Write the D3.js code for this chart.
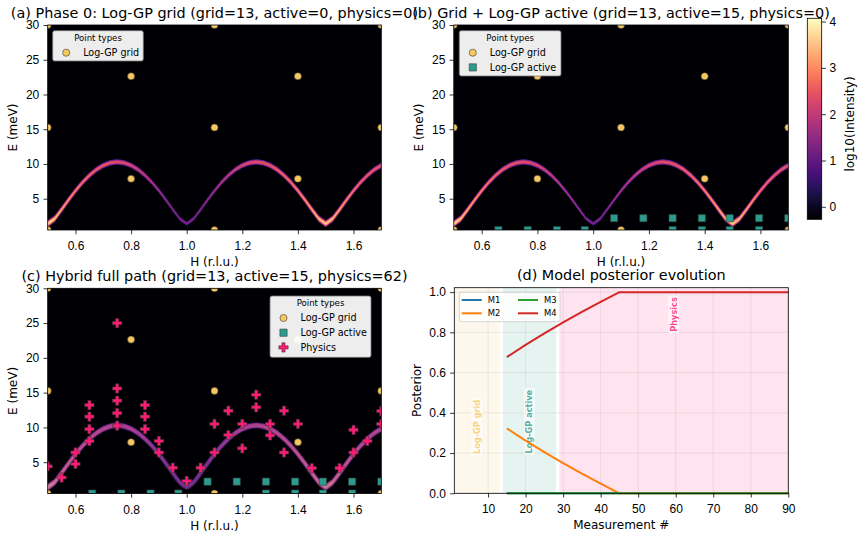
<!DOCTYPE html>
<html>
<head>
<meta charset="utf-8">
<script src="https://cdn.jsdelivr.net/npm/d3@7"></script>
<style>
body { margin: 0; background: #fff; }
svg { font-family: "DejaVu Sans", sans-serif; }
</style>
</head>
<body>
<svg width="862" height="537"></svg>
<script>
// ---- data ----
const hDomain = [0.5, 1.7]
const eDomain = [0.5, 30]
const hTicks = [0.6, 0.8, 1.0, 1.2, 1.4, 1.6]
const eTicks = [5, 10, 15, 20, 25, 30]

// Log-GP grid points
const gridH = [0.5, 1.1, 1.7, 0.8, 1.4, 0.5, 1.1, 1.7, 0.8, 1.4, 0.5, 1.1, 1.7]
const gridE = [30, 30, 30, 22.625, 22.625, 15.25, 15.25, 15.25, 7.875, 7.875, 0.5, 0.5, 0.5]

// Log-GP active points
const activeH = [0.66, 0.765, 0.87, 0.97, 1.075, 1.18, 1.285, 1.39, 1.49, 1.595, 1.70, 1.285, 1.39, 1.49, 1.595]
const activeE = [0.5, 0.5, 0.5, 0.5, 2.2, 2.2, 2.2, 2.2, 2.2, 2.2, 2.2, 0.5, 0.5, 0.5, 0.5]

// physics points
const physicsH = [0.5, 0.55, 0.6, 0.6, 0.65, 0.65, 0.65, 0.65, 0.75, 0.75, 0.75, 0.75, 0.75,
  0.85, 0.85, 0.85, 0.9, 0.9, 0.95, 1.0, 1.05, 1.1, 1.1, 1.15, 1.15, 1.2, 1.2, 1.25, 1.25,
  1.3, 1.3, 1.35, 1.35, 1.4, 1.45, 1.55, 1.6, 1.6, 1.65, 1.7, 1.7]
const physicsE = [4.4, 2.8, 6.4, 4.75, 13.2, 11.55, 9.75, 8.05, 25, 15.6, 13.85, 12.05, 10.25,
  13.2, 11.55, 9.75, 8.05, 6.4, 4.2, 2.3, 4.2, 10.5, 6.4, 12.4, 8.9, 10.5, 7.0, 14.7, 12.9,
  10.5, 8.85, 12.4, 6.4, 10.5, 4.15, 4.15, 9.65, 6.4, 8.05, 12.35, 10.5]

// dispersion ridge, E (meV) every 0.025 r.l.u. from H = 0.5
const ridgeE = [1.4, 2.12, 3.45, 4.84, 6.16, 7.35, 8.37, 9.2, 9.8, 10.17, 10.3, 10.17, 9.8, 9.2, 8.37, 7.35, 6.16, 4.84, 3.45, 2.12,
  1.4, 2.12, 3.45, 4.84, 6.16, 7.35, 8.37, 9.2, 9.8, 10.17, 10.3, 10.17, 9.8, 9.2, 8.37, 7.35, 6.16, 4.84, 3.45, 2.12,
  1.4, 2.12, 3.45, 4.84, 6.16, 7.35, 8.37, 9.2, 9.8]
// peak log10(intensity) on the ridge every 0.05 r.l.u. from H = 0.5
const peakLog = [3.8, 3.3, 2.95, 2.7, 2.5, 2.4, 2.3, 2.05, 1.75, 1.5, 1.3, 1.5, 1.75, 2.05, 2.3, 2.4, 2.5, 2.7, 2.95, 3.3, 3.6, 3.3, 2.85, 2.6, 2.5]
const ridgeWidth = 0.13   // meV, gaussian sigma
const cbarDomain = [-0.27, 4.07]
const cbarTicks = [0, 1, 2, 3, 4]

// model posterior evolution
const measurement = [15, 20, 25, 30, 35, 40, 45, 50, 55, 60, 65, 70, 75, 80, 85, 90]
const postM1 = [0, 0, 0, 0, 0, 0, 0, 0, 0, 0, 0, 0, 0, 0, 0, 0]
const postM2 = [0.323, 0.262, 0.205, 0.15, 0.098, 0.048, 0, 0, 0, 0, 0, 0, 0, 0, 0, 0]
const postM3 = [0, 0, 0, 0, 0, 0, 0, 0, 0, 0, 0, 0, 0, 0, 0, 0]
const postM4 = [0.677, 0.738, 0.795, 0.85, 0.902, 0.952, 1, 1, 1, 1, 1, 1, 1, 1, 1, 1]
const modelNames = ['M1', 'M2', 'M3', 'M4']
const modelColors = ['#1f77b4', '#ff7f0e', '#2ca02c', '#d62728']

const phaseNames = ['Log-GP grid', 'Log-GP active', 'Physics']
const phaseStart = [1, 14, 29]
const phaseEnd = [13.1, 28.1, 90]
const phaseColors = ['#f6c85f', '#2a9d8f', '#ff1a75']

const svg = d3.select('svg')
const heat = d3.scaleSequential(d3.interpolateMagma).domain(cbarDomain).clamp(true)

function styleAxis(sel) {
    sel.select('.domain').remove()
    sel.selectAll('text').attr('font-size', 12).attr('fill', '#000')
    sel.selectAll('line').attr('stroke', '#000').attr('stroke-width', 0.8)
}

const ridge = d3.scaleLinear().domain(ridgeE.map((d, i) => 0.5 + i * 0.025)).range(ridgeE)
const peak = d3.scaleLinear().domain(peakLog.map((d, i) => 0.5 + i * 0.05)).range(peakLog)

// build the intensity map into a canvas and hand it back as an image url
function heatmapURL(x, y) {
    const [x0, x1] = x.range()
    const [y1, y0] = y.range()
    const w = Math.round(x1 - x0), h = Math.round(y1 - y0)
    const canvas = document.createElement('canvas')
    canvas.width = w
    canvas.height = h
    const ctx = canvas.getContext('2d')
    const img = ctx.createImageData(w, h)
    const black = d3.rgb(heat(cbarDomain[0]))
    for (let i = 0; i < w; i++) {
        const hv = x.invert(x0 + (i + 0.5) * (x1 - x0) / w)
        const e0 = ridge(hv), p = peak(hv)
        for (let j = 0; j < h; j++) {
            const e = y.invert(y0 + (j + 0.5) * (y1 - y0) / h)
            const v = p - (e - e0) * (e - e0) / (2 * ridgeWidth * ridgeWidth * Math.LN10)
            const c = v <= cbarDomain[0] ? black : d3.rgb(heat(v))
            const k = (j * w + i) * 4
            img.data[k] = c.r
            img.data[k + 1] = c.g
            img.data[k + 2] = c.b
            img.data[k + 3] = 255
        }
    }
    ctx.putImageData(img, 0, 0)
    return canvas.toDataURL()
}

const markerGrid = d3.symbol().type(d3.symbolCircle).size(40)
const markerActive = d3.symbol().type(d3.symbolSquare).size(52)
const markerPhysics = d3.symbol().type(d3.symbolCross).size(48)

function drawPoints(g, x, y, hs, es, shape, fill) {
    g.selectAll(null)
        .data(hs.map((h, i) => ({ h: h, e: es[i] })))
        .join('path')
        .attr('d', shape)
        .attr('transform', d => `translate(${x(d.h)},${y(d.e)})`)
        .attr('fill', fill)
        .attr('stroke', '#3a3a3a')
        .attr('stroke-width', 0.6)
}

function heatLegend(g, box, items) {
    const lg = g.append('g')
    lg.append('rect')
        .attr('x', box.x).attr('y', box.y)
        .attr('width', box.w).attr('height', box.h)
        .attr('rx', 2)
        .attr('fill', '#fff').attr('fill-opacity', 0.93)
        .attr('stroke', '#777').attr('stroke-width', 0.8)
    lg.append('text')
        .attr('x', box.x + box.w / 2).attr('y', box.y + 10.2)
        .attr('text-anchor', 'middle')
        .attr('font-size', 8.6)
        .text('Point types')
    items.forEach((it, i) => {
        const cy = box.y + 22 + i * 14.7
        lg.append('path')
            .attr('d', it.shape)
            .attr('transform', `translate(${box.x + 13.5},${cy})`)
            .attr('fill', it.fill)
            .attr('stroke', '#3a3a3a').attr('stroke-width', 0.6)
        lg.append('text')
            .attr('x', box.x + 30.5).attr('y', cy + 3.4)
            .attr('font-size', 9.6)
            .text(it.label)
    })
}

function heatPanel(id, box, title, opts) {
    const x = d3.scaleLinear().domain(hDomain).range([box.left, box.right])
    const y = d3.scaleLinear().domain(eDomain).range([box.bottom, box.top])
    const g = svg.append('g')

    g.append('clipPath').attr('id', 'clip-' + id)
        .append('rect')
        .attr('x', box.left).attr('y', box.top)
        .attr('width', box.right - box.left).attr('height', box.bottom - box.top)

    g.append('image')
        .attr('href', heatmapURL(x, y))
        .attr('x', box.left).attr('y', box.top)
        .attr('width', box.right - box.left).attr('height', box.bottom - box.top)
        .attr('preserveAspectRatio', 'none')

    const pts = g.append('g').attr('clip-path', `url(#clip-${id})`)
    if (opts.physics) {
        // translucent trace of the dispersion over the map
        const hs = d3.range(0, 49).map(i => 0.5 + i * 0.025)
        pts.append('path')
            .attr('d', d3.line().x(d => x(d)).y(d => y(ridge(d))).curve(d3.curveCatmullRom)(hs))
            .attr('fill', 'none')
            .attr('stroke', '#8e3fa8').attr('stroke-opacity', 0.5)
            .attr('stroke-width', 4.5)
    }
    drawPoints(pts, x, y, gridH, gridE, markerGrid, '#f6c85f')
    if (opts.active) drawPoints(pts, x, y, activeH, activeE, markerActive, '#2a9d8f')
    if (opts.physics) drawPoints(pts, x, y, physicsH, physicsE, markerPhysics, '#ff1a75')

    g.append('g')
        .attr('transform', `translate(0,${box.bottom})`)
        .call(d3.axisBottom(x).tickValues(hTicks).tickFormat(d3.format('.1f')).tickSize(4.2).tickPadding(7.3))
        .call(styleAxis)
    g.append('g')
        .attr('transform', `translate(${box.left},0)`)
        .call(d3.axisLeft(y).tickValues(eTicks).tickSize(4.2).tickPadding(4.2))
        .call(styleAxis)

    g.append('rect')
        .attr('x', box.left).attr('y', box.top)
        .attr('width', box.right - box.left).attr('height', box.bottom - box.top)
        .attr('fill', 'none').attr('stroke', '#000').attr('stroke-width', 0.8)

    g.append('text')
        .attr('x', (box.left + box.right) / 2).attr('y', box.bottom + 36)
        .attr('text-anchor', 'middle').attr('font-size', 12)
        .text('H (r.l.u.)')
    g.append('text')
        .attr('transform', `translate(${opts.ylabelX},${(box.top + box.bottom) / 2}) rotate(-90)`)
        .attr('text-anchor', 'middle').attr('font-size', 12)
        .text('E (meV)')
    g.append('text')
        .attr('x', (box.left + box.right) / 2).attr('y', box.top - 7.5)
        .attr('text-anchor', 'middle').attr('font-size', 14.4)
        .text(title)

    const items = [{ shape: markerGrid, fill: '#f6c85f', label: 'Log-GP grid' }]
    if (opts.active) items.push({ shape: markerActive, fill: '#2a9d8f', label: 'Log-GP active' })
    if (opts.physics) items.push({ shape: markerPhysics, fill: '#ff1a75', label: 'Physics' })
    heatLegend(g, opts.legend, items)
}

heatPanel('a', { left: 47.7, right: 381.3, top: 25, bottom: 230 },
    '(a) Phase 0: Log-GP grid (grid=13, active=0, physics=0)',
    { ylabelX: 16.7, legend: { x: 52.7, y: 30.7, w: 90.6, h: 30.3 } })

heatPanel('b', { left: 453.8, right: 788.3, top: 25, bottom: 230 },
    '(b) Grid + Log-GP active (grid=13, active=15, physics=0)',
    { active: true, ylabelX: 422.7, legend: { x: 459.3, y: 30.7, w: 101.7, h: 45.3 } })

heatPanel('c', { left: 47.7, right: 381.3, top: 288.3, bottom: 493.5 },
    '(c) Hybrid full path (grid=13, active=15, physics=62)',
    { active: true, physics: true, ylabelX: 16.7, legend: { x: 270, y: 296, w: 101, h: 61.3 } })

// colorbar
const cbar = { left: 807.3, right: 821.7, top: 18.3, bottom: 219.3 }
const cy = d3.scaleLinear().domain(cbarDomain).range([cbar.bottom, cbar.top])
const grad = svg.append('defs').append('linearGradient')
    .attr('id', 'magma').attr('x1', 0).attr('x2', 0).attr('y1', 1).attr('y2', 0)
d3.range(0, 1.0001, 0.05).forEach(t => {
    grad.append('stop').attr('offset', t).attr('stop-color', d3.interpolateMagma(t))
})
svg.append('rect')
    .attr('x', cbar.left).attr('y', cbar.top)
    .attr('width', cbar.right - cbar.left).attr('height', cbar.bottom - cbar.top)
    .attr('fill', 'url(#magma)').attr('stroke', '#000').attr('stroke-width', 0.8)
svg.append('g')
    .attr('transform', `translate(${cbar.right},0)`)
    .call(d3.axisRight(cy).tickValues(cbarTicks).tickFormat(d3.format('d')).tickSize(4.2).tickPadding(3.5))
    .call(styleAxis)
svg.append('text')
    .attr('transform', `translate(853.7,124) rotate(-90)`)
    .attr('text-anchor', 'middle').attr('font-size', 12)
    .text('log10(Intensity)')

// ---- (d) model posterior evolution ----
const dBox = { left: 454.3, right: 788.3, top: 287.7, bottom: 493.3 }
const xd = d3.scaleLinear().domain([1, 90]).range([dBox.left, dBox.right])
const yd = d3.scaleLinear().domain([0, 1.022]).range([dBox.bottom, dBox.top])
const gd = svg.append('g')

gd.selectAll('.span')
    .data(phaseNames)
    .join('rect')
    .attr('x', (d, i) => xd(phaseStart[i]))
    .attr('width', (d, i) => xd(phaseEnd[i]) - xd(phaseStart[i]))
    .attr('y', dBox.top).attr('height', dBox.bottom - dBox.top)
    .attr('fill', (d, i) => phaseColors[i]).attr('fill-opacity', 0.12)

const xTicksD = [10, 20, 30, 40, 50, 60, 70, 80, 90]
const yTicksD = [0, 0.2, 0.4, 0.6, 0.8, 1.0]
gd.append('g').selectAll('line').data(xTicksD).join('line')
    .attr('x1', d => xd(d)).attr('x2', d => xd(d))
    .attr('y1', dBox.top).attr('y2', dBox.bottom)
    .attr('stroke', '#b0b0b0').attr('stroke-opacity', 0.3).attr('stroke-width', 0.8)
gd.append('g').selectAll('line').data(yTicksD).join('line')
    .attr('y1', d => yd(d)).attr('y2', d => yd(d))
    .attr('x1', dBox.left).attr('x2', dBox.right)
    .attr('stroke', '#b0b0b0').attr('stroke-opacity', 0.3).attr('stroke-width', 0.8)

// phase labels
const labelY = [0.33, 0.356, 0.889]
phaseNames.forEach((name, i) => {
    const cx = xd((phaseStart[i] + phaseEnd[i]) / 2), cyy = yd(labelY[i])
    const t = gd.append('g').attr('transform', `translate(${cx},${cyy}) rotate(-90)`)
    const txt = t.append('text')
        .attr('text-anchor', 'middle').attr('dy', '0.35em')
        .attr('font-size', 8.2).attr('font-weight', 'bold')
        .attr('fill', phaseColors[i]).attr('fill-opacity', 0.8)
        .text(name)
    const bb = txt.node().getBBox()
    t.insert('rect', 'text')
        .attr('x', bb.x - 1.5).attr('y', bb.y - 0.5)
        .attr('width', bb.width + 3).attr('height', bb.height + 1)
        .attr('fill', '#fff').attr('fill-opacity', 0.6)
})

const posts = [postM1, postM2, postM3, postM4]
const line = d3.line().x((d, i) => xd(measurement[i])).y(d => yd(d))
posts.forEach((p, i) => {
    gd.append('path')
        .attr('d', line(p))
        .attr('fill', 'none')
        .attr('stroke', modelColors[i]).attr('stroke-width', 2)
        .attr('stroke-linejoin', 'round')
})

gd.append('g')
    .attr('transform', `translate(0,${dBox.bottom})`)
    .call(d3.axisBottom(xd).tickValues(xTicksD).tickSize(4.2).tickPadding(7.3))
    .call(styleAxis)
gd.append('g')
    .attr('transform', `translate(${dBox.left},0)`)
    .call(d3.axisLeft(yd).tickValues(yTicksD).tickFormat(d3.format('.1f')).tickSize(4.2).tickPadding(4.2))
    .call(styleAxis)
gd.append('rect')
    .attr('x', dBox.left).attr('y', dBox.top)
    .attr('width', dBox.right - dBox.left).attr('height', dBox.bottom - dBox.top)
    .attr('fill', 'none').attr('stroke', '#000').attr('stroke-width', 0.8)

// legend, two columns
const lg = gd.append('g')
lg.append('rect')
    .attr('x', 459.3).attr('y', 292.3).attr('width', 100.7).attr('height', 29.4)
    .attr('rx', 2)
    .attr('fill', '#fff').attr('fill-opacity', 0.8)
    .attr('stroke', '#ccc').attr('stroke-width', 0.8)
modelNames.forEach((name, i) => {
    const col = Math.floor(i / 2), row = i % 2
    const lx = 461.7 + col * 56.3, ly = 300 + row * 13.3
    lg.append('line')
        .attr('x1', lx).attr('x2', lx + 20)
        .attr('y1', ly).attr('y2', ly)
        .attr('stroke', modelColors[i]).attr('stroke-width', 2)
    lg.append('text')
        .attr('x', lx + 26).attr('y', ly + 3)
        .attr('font-size', 8.4)
        .text(name)
})

gd.append('text')
    .attr('x', (dBox.left + dBox.right) / 2).attr('y', dBox.bottom + 36)
    .attr('text-anchor', 'middle').attr('font-size', 12)
    .text('Measurement #')
gd.append('text')
    .attr('transform', `translate(421,${(dBox.top + dBox.bottom) / 2}) rotate(-90)`)
    .attr('text-anchor', 'middle').attr('font-size', 12)
    .text('Posterior')
gd.append('text')
    .attr('x', (dBox.left + dBox.right) / 2).attr('y', dBox.top - 7.5)
    .attr('text-anchor', 'middle').attr('font-size', 14.4)
    .text('(d) Model posterior evolution')
</script>
</body>
</html>
